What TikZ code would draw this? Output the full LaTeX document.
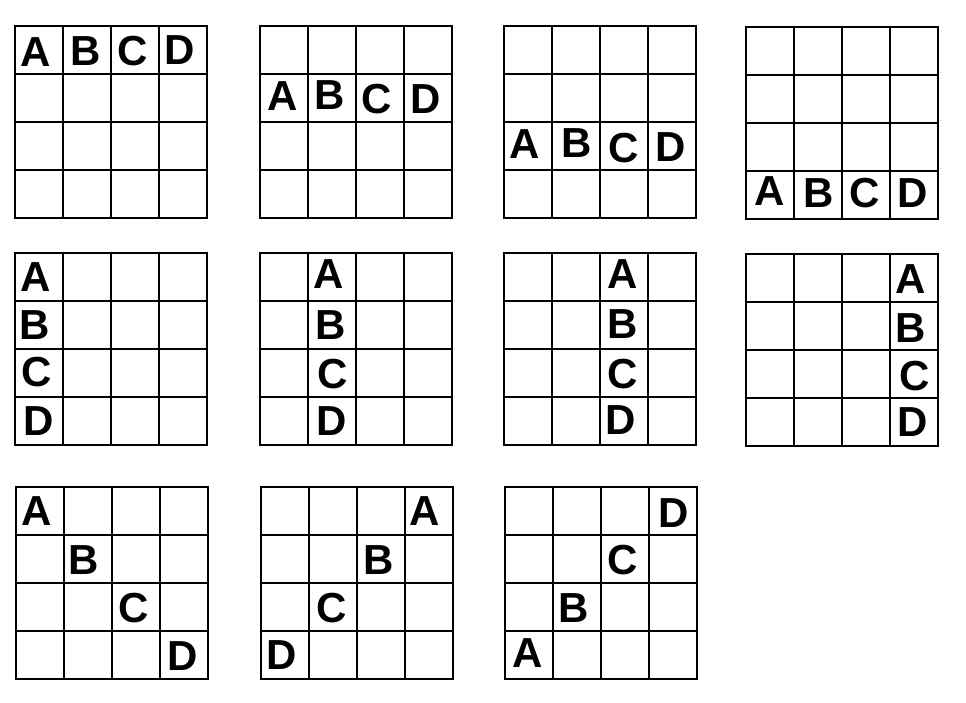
\documentclass[tikz,border=0pt]{standalone}
\usepackage{fontspec}
\setmainfont{Liberation Sans}
\begin{document}
\begin{tikzpicture}[x=1pt,y=-1pt,
  gridline/.style={line width=2.5pt, black, line cap=rect},
  lett/.style={font=\fontsize{42}{42}\selectfont\bfseries, inner sep=0pt, anchor=center}]
\useasboundingbox (0,0) rectangle (966,702);
\fill[white] (0,0) rectangle (966,702);
% grids
\foreach \gx/\gy in {15/26, 260/26, 504/26, 746/27,
                     15/253, 260/253, 504/253, 746/254,
                     16/487, 261/487, 505/487} {
  \foreach \k in {0,...,4} {
    \draw[gridline] (\gx+48*\k,\gy) -- (\gx+48*\k,\gy+192);
    \draw[gridline] (\gx,\gy+48*\k) -- (\gx+192,\gy+48*\k);
  }
}
% grid 1
\node[lett] (g1a) at (36,52) {A};
\node[lett] (g1b) at (86,51.5) {B};
\node[lett] (g1c) at (133,51) {C};
\node[lett] (g1d) at (180,50.5) {D};
% grid 2
\node[lett] (g2a) at (283,96) {A};
\node[lett] (g2b) at (330,95.5) {B};
\node[lett] (g2c) at (376.5,99) {C};
\node[lett] (g2d) at (426,99) {D};
% grid 3
\node[lett] (g3a) at (525,144) {A};
\node[lett] (g3b) at (576.5,143) {B};
\node[lett] (g3c) at (624,148) {C};
\node[lett] (g3d) at (670.5,147) {D};
% grid 4
\node[lett] (g4a) at (769.5,191.5) {A};
\node[lett] (g4b) at (818.5,193.5) {B};
\node[lett] (g4c) at (865,193.5) {C};
\node[lett] (g4d) at (913,193) {D};
% grid 5
\node[lett] (g5a) at (36,277) {A};
\node[lett] (g5b) at (35,325.5) {B};
\node[lett] (g5c) at (36.5,372.5) {C};
\node[lett] (g5d) at (39,421) {D};
% grid 6
\node[lett] (g6a) at (329,273.7) {A};
\node[lett] (g6b) at (330.5,325) {B};
\node[lett] (g6c) at (332.5,374) {C};
\node[lett] (g6d) at (331.5,421) {D};
% grid 7
\node[lett] (g7a) at (622.5,273.7) {A};
\node[lett] (g7b) at (622.5,324.5) {B};
\node[lett] (g7c) at (622.5,374) {C};
\node[lett] (g7d) at (621,420) {D};
% grid 8
\node[lett] (g8a) at (910.5,279) {A};
\node[lett] (g8b) at (910.5,328) {B};
\node[lett] (g8c) at (914.5,376) {C};
\node[lett] (g8d) at (913,422) {D};
% grid 9
\node[lett] (g9a) at (37,511) {A};
\node[lett] (g9b) at (84,560) {B};
\node[lett] (g9c) at (134,608) {C};
\node[lett] (g9d) at (182.5,656) {D};
% grid 10
\node[lett] (g10a) at (425,511) {A};
\node[lett] (g10b) at (379,560) {B};
\node[lett] (g10c) at (332,608) {C};
\node[lett] (g10d) at (282,655.5) {D};
% grid 11
\node[lett] (g11d) at (673.5,513) {D};
\node[lett] (g11c) at (622.5,560) {C};
\node[lett] (g11b) at (574,608) {B};
\node[lett] (g11a) at (527.5,653) {A};
\end{tikzpicture}
\end{document}
